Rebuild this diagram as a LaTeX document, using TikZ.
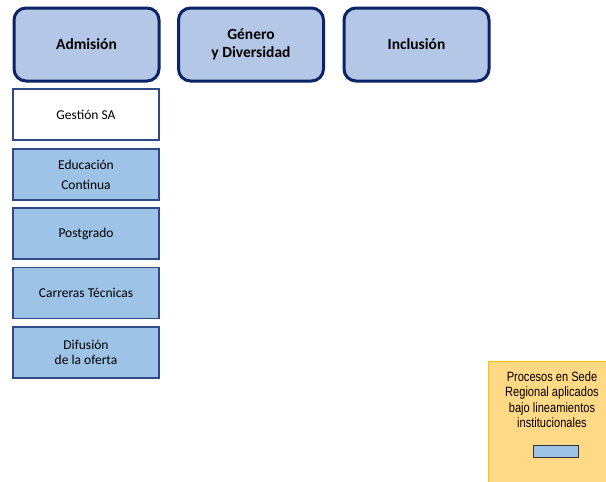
\documentclass[tikz,border=0pt]{standalone}
\usepackage{fontspec}
\setmainfont{Carlito}
\newfontfamily\narrowfont[FakeStretch=0.82]{Liberation Sans}
\usetikzlibrary{positioning}
\definecolor{navy}{HTML}{0A2466}
\definecolor{topfill}{HTML}{B4C7E7}
\definecolor{subfill}{HTML}{9DC3E6}
\definecolor{subline}{HTML}{2F4A86}
\definecolor{legfill}{HTML}{FFD986}
\definecolor{legline}{HTML}{FFC000}

\begin{document}
\begin{tikzpicture}[x=1pt,y=-1pt,
		areabox/.style={draw=navy,line width=3pt,fill=topfill,rounded corners=12pt,
			minimum width=145pt,minimum height=73pt,align=center,
			font=\fontsize{15.5}{17.5}\selectfont\bfseries},
		subbox/.style={draw=subline,line width=1.2pt,fill=subfill,
			minimum width=146pt,minimum height=51pt,align=center,
			font=\fontsize{13.5}{15}\selectfont}]
	\useasboundingbox (0,0) rectangle (606,482);

	% areas
	\node[areabox] (admision) at (86.5,44.5) {Admisión};
	\node[areabox] (genero) at (251,44.5) {Género\\y Diversidad};
	\node[areabox] (inclusion) at (416.5,44.5) {Inclusión};

	% procesos de admision
	\node[subbox,fill=white] (gestion) at (86,114.5) {Gestión SA};
	\node[subbox,font=\fontsize{13.5}{20}\selectfont] (educacion) at (86,174.5) {Educación\\Continua};
	\node[subbox] (postgrado) at (86,233.5) {Postgrado};
	\node[subbox] (carreras) at (86,293) {Carreras Técnicas};
	\node[subbox] (difusion) at (86,352.5) {Difusión\\de la oferta};

	% leyenda
	\fill[legfill] (488,361) rectangle (606,482);
	\draw[legline,line width=1pt] (488,482) -- (488,361) -- (606,361);
	\node[font=\narrowfont\fontsize{13.5}{15.5}\selectfont,align=center,anchor=north]
		(leyenda) at (552,368) {Procesos en Sede\\Regional aplicados\\bajo lineamientos\\institucionales};
	\node[draw=black!80,line width=0.8pt,fill=subfill,minimum width=45pt,minimum height=12pt,
		inner sep=0pt] (muestra) at (556,451) {};
\end{tikzpicture}
\end{document}
